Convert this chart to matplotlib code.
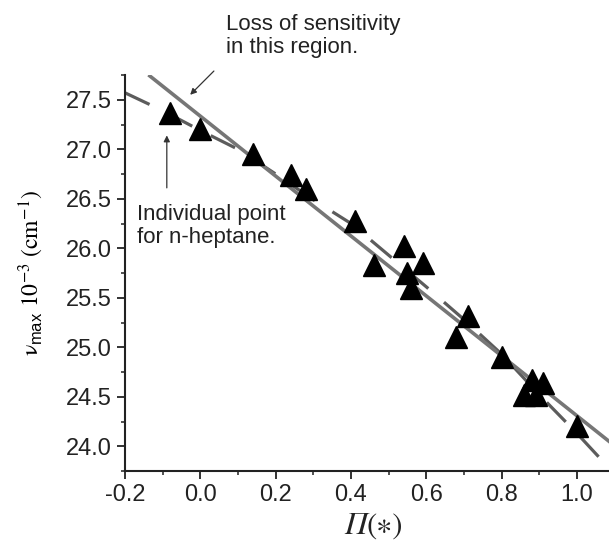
import numpy as np
import matplotlib.pyplot as plt

plt.rcParams['font.family'] = ['Liberation Sans', 'DejaVu Sans']
plt.rcParams['mathtext.fontset'] = 'stix'

# solvent points
pi_star = [-0.08, 0.00, 0.14, 0.24, 0.28, 0.41, 0.46, 0.54, 0.55, 0.56,
           0.59, 0.68, 0.71, 0.80, 0.86, 0.88, 0.89, 0.91, 1.00]
nu_max = [27.37, 27.20, 26.95, 26.74, 26.60, 26.28, 25.83, 26.02, 25.75, 25.60,
          25.85, 25.10, 25.32, 24.90, 24.52, 24.67, 24.52, 24.64, 24.20]

# straight fit line (end points)
fit_x = [-0.134, 1.085]
fit_y = [27.74, 24.05]

# curved (dashed) fit
curve_x = [-0.20, -0.10, 0.00, 0.10, 0.20, 0.30, 0.40, 0.50, 0.60, 0.70,
           0.80, 0.90, 1.00, 1.09]
curve_y = [27.57, 27.39, 27.19, 27.00, 26.75, 26.49, 26.25, 25.93, 25.61, 25.28,
           24.93, 24.52, 24.13, 23.76]

xticks = [-0.2, 0.0, 0.2, 0.4, 0.6, 0.8, 1.0]
yticks = [24.0, 24.5, 25.0, 25.5, 26.0, 26.5, 27.0, 27.5]

fig = plt.figure(figsize=(6.09, 5.49), dpi=100)
ax = fig.add_axes([125 / 609, 78 / 549, 484 / 609, 396 / 549])

ax.plot(curve_x, curve_y, color='#5c5c5c', lw=2.3, dashes=(8.5, 6.5), zorder=2)
ax.plot(fit_x, fit_y, color='#767676', lw=2.6, zorder=3)
ax.plot(pi_star, nu_max, ls='none', marker='^', ms=15.5, color='black', zorder=4)

ax.set_xlim(-0.2, 1.085)
ax.set_ylim(23.75, 27.74)
ax.set_xticks(xticks)
ax.set_xticklabels([f'{v:.1f}' for v in xticks])
ax.set_yticks(yticks)
ax.set_yticklabels([f'{v:.1f}' for v in yticks])
ax.set_xticks(np.arange(-0.1, 1.05, 0.2), minor=True)
ax.set_yticks(np.arange(23.75, 27.8, 0.5), minor=True)

for side in ('top', 'right'):
    ax.spines[side].set_visible(False)
for side in ('left', 'bottom'):
    ax.spines[side].set_linewidth(1.5)
    ax.spines[side].set_color('#222222')
ax.tick_params(which='major', direction='out', length=5.5, width=1.3,
               labelsize=17, colors='#222222', pad=4)
ax.tick_params(which='minor', direction='out', length=3, width=1.1, colors='#222222')

ax.set_ylabel(r'$\mathrm{\nu}_{\mathregular{max}}\ 10^{-3}\ (\mathrm{cm}^{-1})$',
              fontsize=17, labelpad=14)

# x label: italic Pi followed by upright (*)
ax.text(0.5, -0.105, 'Π', transform=ax.transAxes, family='STIXGeneral', style='italic',
        fontsize=23, ha='right', va='top', color='#222222')
ax.text(0.5, -0.105, '(∗)', transform=ax.transAxes, family='STIXGeneral',
        fontsize=22, ha='left', va='top', color='#222222')

fig.text(226 / 609, 1 - 14 / 549, 'Loss of sensitivity\nin this region.',
         fontsize=16, va='top', ha='left', color='#222222', linespacing=1.15)
fig.text(137 / 609, 1 - 204 / 549, 'Individual point\nfor n-heptane.',
         fontsize=16, va='top', ha='left', color='#222222', linespacing=1.15)

arrow = dict(arrowstyle='-|>', lw=0.9, color='#333333', mutation_scale=9, shrinkA=0, shrinkB=0)
ax.annotate('', xy=(-0.027, 27.55), xytext=(0.036, 27.79), arrowprops=arrow,
            annotation_clip=False)
ax.annotate('', xy=(-0.089, 27.14), xytext=(-0.089, 26.61), arrowprops=arrow,
            annotation_clip=False)

fig.savefig('out.png', dpi=100)
